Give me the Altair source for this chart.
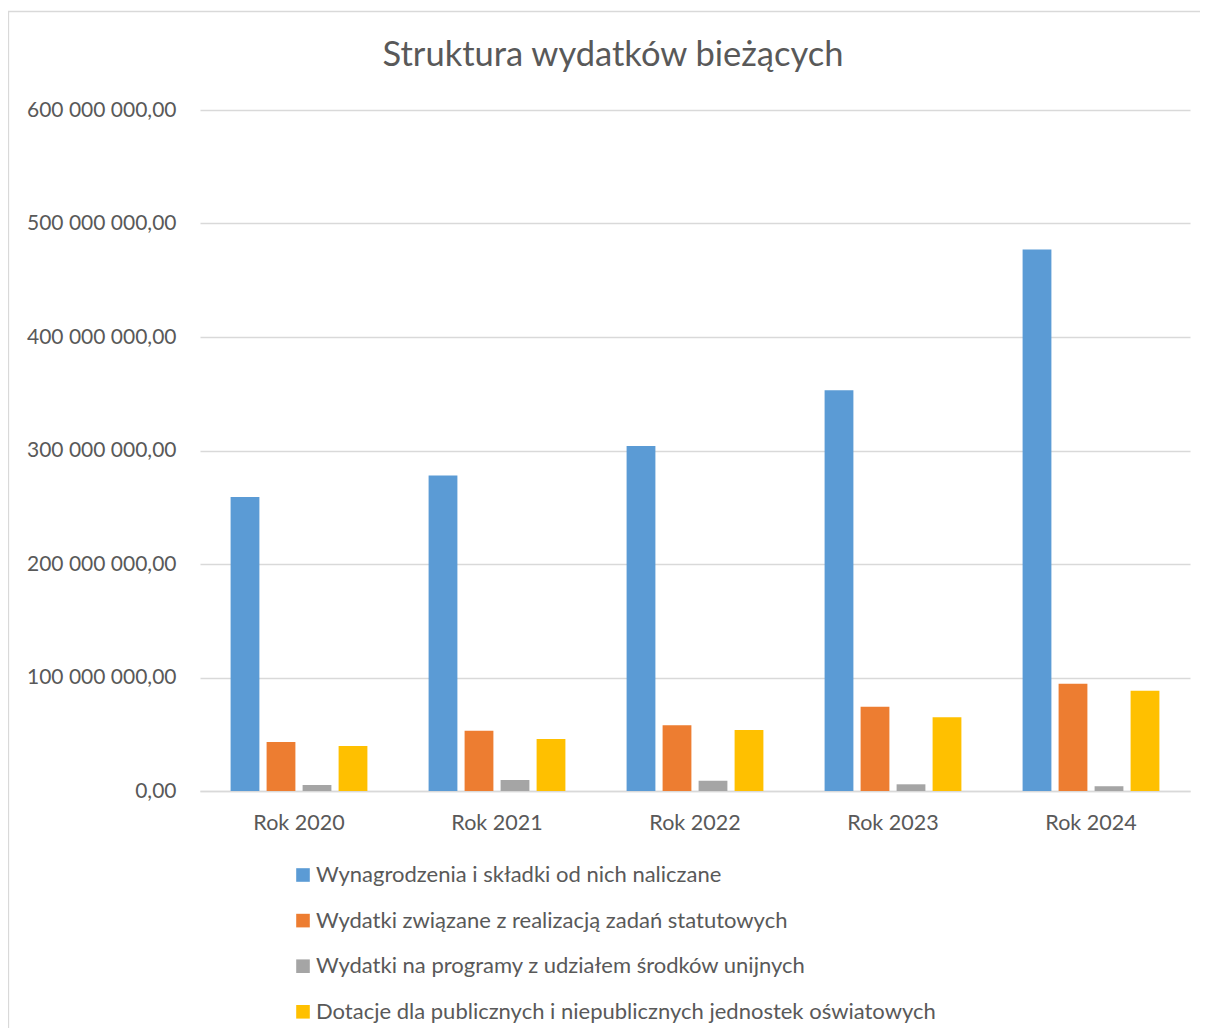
import altair as alt
import pandas as pd

years = ["Rok 2020", "Rok 2021", "Rok 2022", "Rok 2023", "Rok 2024"]
series = [
    "Wynagrodzenia i składki od nich naliczane",
    "Wydatki związane z realizacją zadań statutowych",
    "Wydatki na programy z udziałem środków unijnych",
    "Dotacje dla publicznych i niepublicznych jednostek oświatowych",
]
wynagrodzenia = [259_000_000, 278_000_000, 304_000_000, 353_000_000, 477_000_000]
statutowe = [43_200_000, 53_000_000, 58_000_000, 74_300_000, 94_500_000]
unijne = [5_300_000, 9_700_000, 9_100_000, 5_900_000, 4_200_000]
dotacje = [39_600_000, 45_800_000, 53_700_000, 65_000_000, 88_400_000]
colors = ["#5B9BD5", "#ED7D31", "#A5A5A5", "#FFC000"]
y_ticks = [0, 100_000_000, 200_000_000, 300_000_000, 400_000_000, 500_000_000, 600_000_000]

rows = []
for s, vals in zip(series, [wynagrodzenia, statutowe, unijne, dotacje]):
    for y, v in zip(years, vals):
        rows.append({"rok": y, "seria": s, "wartosc": v})
df = pd.DataFrame(rows)

FONT = "Lato"
TXT = "#595959"
GRID = "#D9D9D9"

border = alt.Chart(alt.Data(values=[{"a": 1}])).mark_rect(
    fill="white", fillOpacity=0, stroke=GRID, strokeWidth=1.3
).encode(
    x=alt.value(-191.5), y=alt.value(-98.5), x2=alt.value(1200), y2=alt.value(1100)
)

bars = alt.Chart(df).mark_bar().encode(
    x=alt.X(
        "rok:N",
        sort=years,
        title=None,
        scale=alt.Scale(paddingInner=0, paddingOuter=0),
        axis=alt.Axis(
            labelAngle=0,
            labelFont=FONT,
            labelFontSize=21.5,
            labelColor=TXT,
            ticks=False,
            tickSize=0,
            labelPadding=21,
            domainColor=GRID,
            domainWidth=1.3,
            grid=False,
        ),
    ),
    xOffset=alt.XOffset(
        "seria:N",
        sort=series,
        scale=alt.Scale(domain=series, paddingInner=0.2, paddingOuter=0.85),
    ),
    y=alt.Y(
        "wartosc:Q",
        title=None,
        scale=alt.Scale(domain=[0, 600_000_000], nice=False),
        axis=alt.Axis(
            values=y_ticks,
            labelExpr="replace(replace(format(datum.value, ',.2f'), regexp(',', 'g'), ' '), '.', ',')",
            labelFont=FONT,
            labelFontSize=21,
            labelColor=TXT,
            ticks=False,
            tickSize=0,
            labelPadding=24,
            domain=False,
            grid=True,
            gridColor=GRID,
            gridWidth=1.3,
        ),
    ),
    color=alt.Color(
        "seria:N",
        sort=series,
        scale=alt.Scale(domain=series, range=colors),
        legend=alt.Legend(
            title=None,
            orient="none",
            legendX=92,
            legendY=754,
            direction="vertical",
            symbolType="square",
            symbolSize=185,
            symbolStrokeWidth=0,
            labelFont=FONT,
            labelFontSize=22,
            labelColor=TXT,
            labelLimit=900,
            labelOffset=2,
            rowPadding=23.6,
            padding=0,
        ),
    ),
)

chart = alt.layer(border, bars).properties(
    width=990,
    height=681,
    background="white",
    padding={"left": 192, "top": 102, "right": 10, "bottom": 237},
    autosize=alt.AutoSizeParams(type="none"),
    title=alt.TitleParams(
        "Struktura wydatków bieżących",
        font=FONT,
        fontSize=34.5,
        fontWeight="normal",
        color=TXT,
        anchor="middle",
        dx=-82,
        offset=-63,
    ),
).configure_view(stroke=None)

chart.save("out.html", embed_options={"renderer": "svg", "actions": False})
